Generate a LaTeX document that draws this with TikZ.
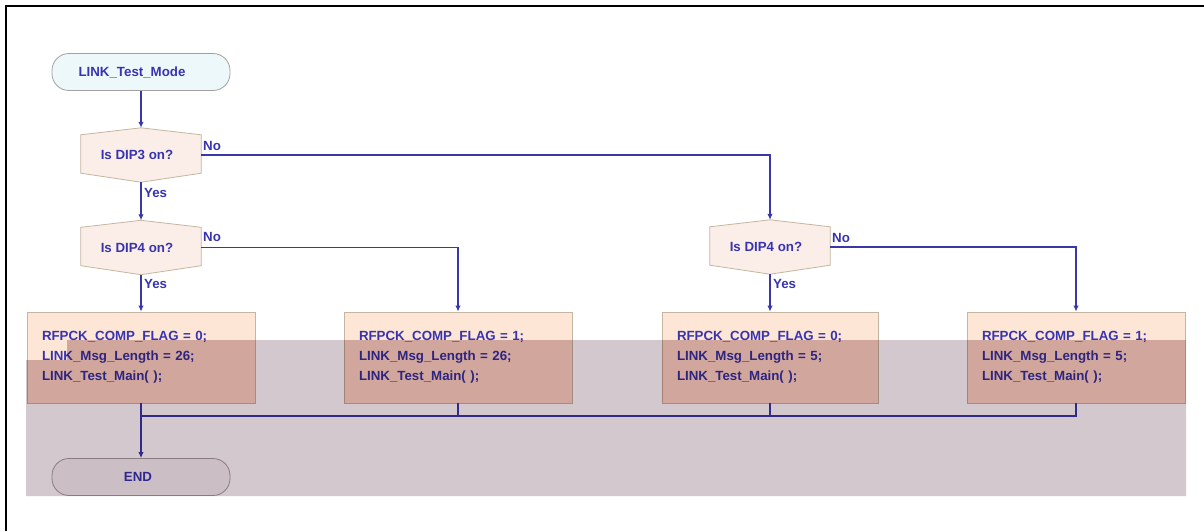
\documentclass[tikz,border=0pt]{standalone}
\usepackage{fontspec}
\setmainfont{Liberation Sans}
\usetikzlibrary{arrows.meta,backgrounds}
\definecolor{ln}{RGB}{58,56,168}
\definecolor{tx}{RGB}{56,52,176}
\definecolor{decfill}{RGB}{251,238,232}
\definecolor{boxfill}{RGB}{253,230,214}
\definecolor{startfill}{RGB}{237,248,250}
\definecolor{endfill}{RGB}{246,244,246}
\definecolor{shp}{RGB}{196,182,160}
\definecolor{termb}{RGB}{165,160,160}
\definecolor{ovl}{RGB}{211,200,205}
\definecolor{ovlbox}{RGB}{255,236,234}
\tikzset{
  txt/.style={font=\fontsize{13.3}{20}\selectfont\bfseries, text=tx},
  term/.style={txt, draw=termb, line width=0.8pt, rounded corners=17pt, minimum width=178pt, minimum height=37pt, inner sep=0pt},
  decnode/.style={txt, minimum width=120pt, minimum height=54pt, inner sep=0pt},
  hexb/.style={fill=decfill, draw=shp, line width=0.8pt},
  procbox/.style={txt, fill=boxfill, draw=shp, line width=0.8pt, minimum width=228pt, minimum height=91pt, text width=198pt, inner xsep=15pt, align=left},
  lbl/.style={txt, anchor=west, inner sep=0pt},
  conn/.style={draw=ln, line width=1.3pt},
  arr/.style={conn, -{Latex[length=6pt,width=5.5pt]}},
}
\begin{document}
\begin{tikzpicture}[x=1pt,y=-1pt]
\useasboundingbox (0,0) rectangle (1204,531);
\draw[black, line width=2pt] (6,531) -- (6,6) -- (1204,6);

% start
\node[term, fill=startfill] (s) at (141,72) {\hspace*{-18pt}LINK\_Test\_Mode};

% decisions
\node[decnode] (d1) at (141,155) {\hspace*{-8pt}Is DIP3 on?};
\node[decnode] (d2) at (141,247.5) {\hspace*{-8pt}Is DIP4 on?};
\node[decnode] (d3) at (770,247) {\hspace*{-8pt}Is DIP4 on?};
\begin{pgfonlayer}{background}
\fill[white] (0,0) rectangle (1204,531);
\foreach \d in {d1,d2,d3}{
  \draw[hexb] (\d.north) -- ([yshift=-7pt]\d.north east) -- ([yshift=9pt]\d.south east)
    -- (\d.south) -- ([yshift=9pt]\d.south west) -- ([yshift=-7pt]\d.north west) -- cycle;
}
\end{pgfonlayer}

% process boxes
\node[procbox] (b1) at (141,357.5) {RFPCK\_COMP\_FLAG = 0;\\LINK\_Msg\_Length = 26;\\LINK\_Test\_Main( );};
\node[procbox] (b2) at (458,357.5) {RFPCK\_COMP\_FLAG = 1;\\LINK\_Msg\_Length = 26;\\LINK\_Test\_Main( );};
\node[procbox, minimum width=216pt, text width=186pt] (b3) at (770,357.5) {RFPCK\_COMP\_FLAG = 0;\\LINK\_Msg\_Length = 5;\\LINK\_Test\_Main( );};
\node[procbox, minimum width=218pt, text width=188pt, inner xsep=13pt] (b4) at (1076,357.5) {RFPCK\_COMP\_FLAG = 1;\\LINK\_Msg\_Length = 5;\\LINK\_Test\_Main( );};

% end
\node[term, fill=endfill] (e) at (141,477) {\hspace*{-6pt}END};

\coordinate (m) at (141,416);

% connectors
\draw[arr] (s.south) -- (d1.north);
\draw[arr] (d1.south) -- (d2.north);
\draw[arr] (d1.east) -| (d3.north);
\draw[arr] (d2.south) -- (b1.north);
\draw[arr] (d2.east) -| (b2.north);
\draw[arr] (d3.south) -- (b3.north);
\draw[arr] (d3.east) -| (b4.north);
\draw[arr] (b1.south) -- (e.north);
\draw[conn] (b2.south) |- (m);
\draw[conn] (b3.south) |- (m);
\draw[conn] (b4.south) |- (m);

% labels
\node[lbl] (n1) at (203,146) {No};
\node[lbl] (y1) at (144,193) {Yes};
\node[lbl] (n2) at (203,237) {No};
\node[lbl] (y2) at (144,284) {Yes};
\node[lbl] (n3) at (832,238) {No};
\node[lbl] (y3) at (773,284) {Yes};

% translucent overlay
\begin{scope}[blend mode=multiply]
\fill[ovl] (26,360) -- (67,360) -- (67,340) -- (1186,340) -- (1186,496) -- (26,496) -- cycle;
\end{scope}
\begin{scope}[blend mode=multiply]
\clip (26,360) -- (67,360) -- (67,340) -- (1186,340) -- (1186,496) -- (26,496) -- cycle;
\foreach \b in {b1,b2,b3,b4}{
  \fill[ovlbox] (\b.south west) rectangle (\b.north east);
}
\end{scope}
\end{tikzpicture}
\end{document}
